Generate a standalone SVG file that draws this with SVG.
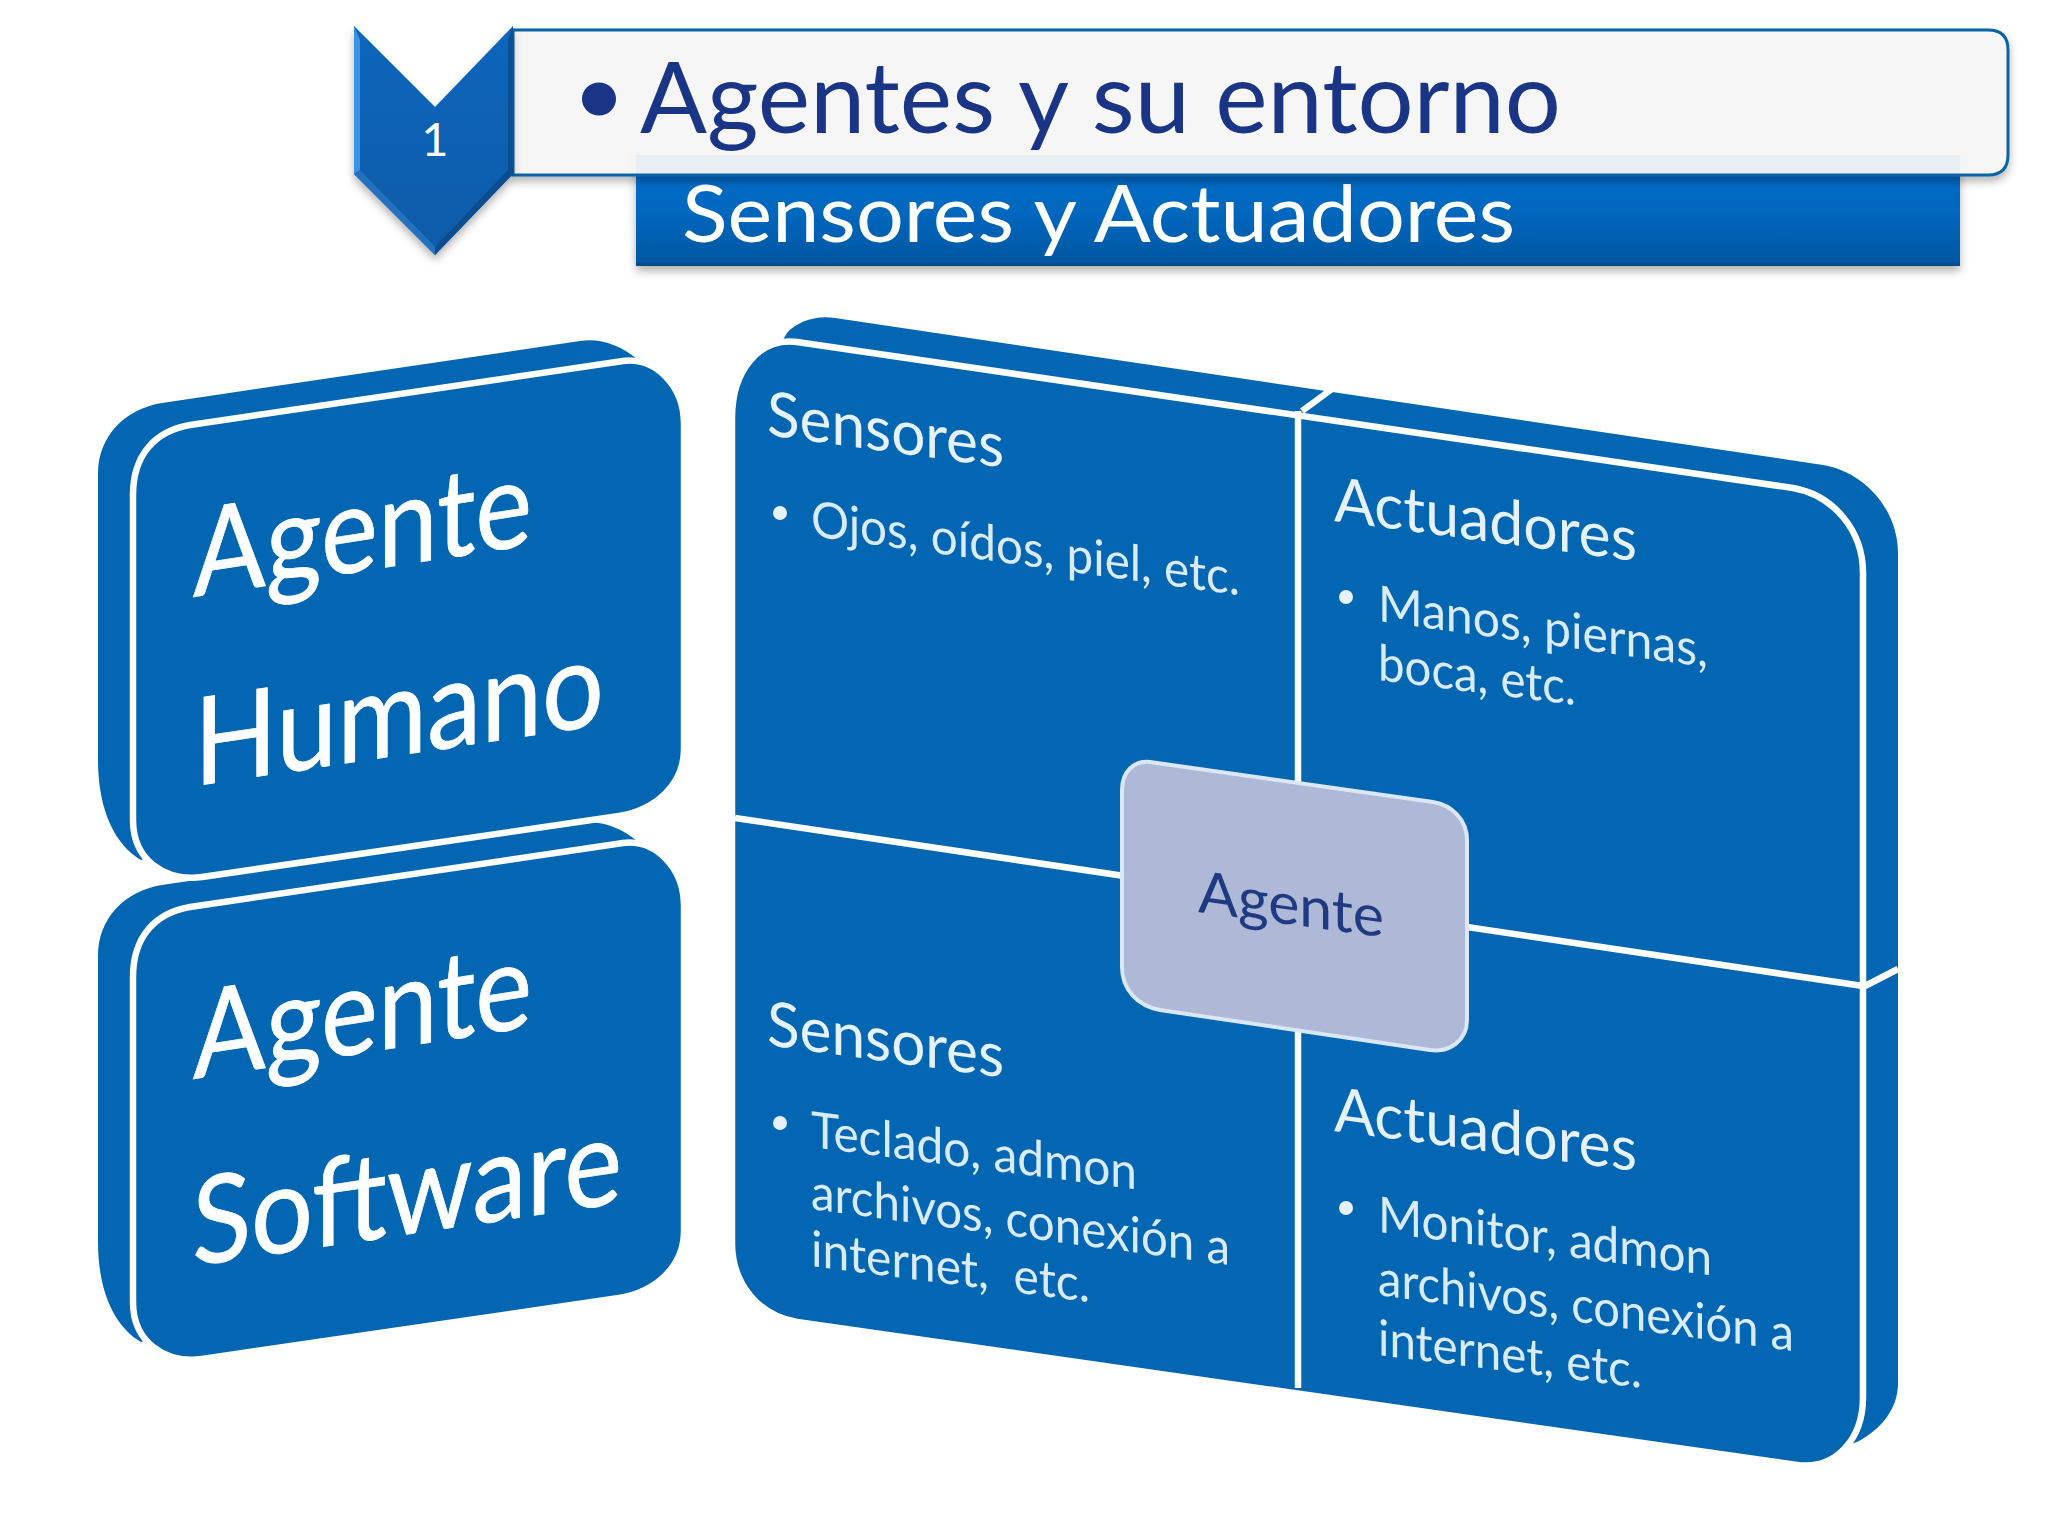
<svg xmlns="http://www.w3.org/2000/svg" width="2048" height="1536" viewBox="0 0 2048 1536">
<style>
text{font-family:"Lato","Liberation Sans",sans-serif}
.b{fill:#0366b2}
.f{fill:#0366b2;stroke:#fff;stroke-width:6.500}
.d{fill:none;stroke:#fff;stroke-width:6.500}
.big{fill:#fdfeff;font-size:122px;stroke:#fdfeff;stroke-width:.8}
.h{fill:#e6f2fb;font-size:62px}
.t{fill:#d9ebf8;font-size:50px}
.dot{fill:#e6f2fb}
</style>
<defs>
<linearGradient id="gb" x1="0" y1="0" x2="0" y2="1"><stop offset="0" stop-color="#066ecb"/><stop offset=".55" stop-color="#0566bc"/><stop offset="1" stop-color="#04569f"/></linearGradient>
<linearGradient id="gc" x1="0" y1="0" x2="0" y2="1"><stop offset="0" stop-color="#0b66bc"/><stop offset="1" stop-color="#0b5ca8"/></linearGradient>
<filter id="sh" x="-10%" y="-10%" width="120%" height="130%"><feDropShadow dx="0" dy="5" stdDeviation="4" flood-color="#000" flood-opacity=".3"/></filter>
<path id="bk" d="M162 403L580 341C600 338 620 345 637 359L640 700L141 860C115 845 98 810 98 760L98 474C98 436 125 409 162 403Z"/>
<path id="fr" d="M190 425L623 361C655 357 684 385 684 424L684 749C684 785 655 810 619 816L202 877C165 882 133 860 133 820L133 495C133 455 155 431 190 425Z"/>
</defs>
<g id="bar"><rect x="636" y="155" width="1324" height="111" fill="url(#gb)" filter="url(#sh)"/><rect x="636" y="263" width="1324" height="3" fill="#0b4a85"/>
<text x="682" y="242" font-size="80" fill="#fff" textLength="833" lengthAdjust="spacingAndGlyphs">Sensores y Actuadores</text></g>
<g id="title"><path d="M513 30H1988Q2008 30 2008 50V155Q2008 175 1988 175H513Z" fill="#f7f7f7" fill-opacity=".93" stroke="#0a64a4" stroke-width="3" filter="url(#sh)"/>
<ellipse cx="599" cy="99" rx="17" ry="16.500" fill="#1a3585"/>
<text x="640" y="133" font-size="98" fill="#1a3585" textLength="921" lengthAdjust="spacingAndGlyphs">Agentes y su entorno</text></g>
<g id="chevron"><polygon points="354,26 435,107 513,26 513,174 435,255 354,174" fill="url(#gc)" filter="url(#sh)"/>
<polygon points="354,26 360,40 360,170 354,174" fill="#3a94e4"/><polygon points="354,174 360,170 435,247 435,255" fill="#2272c0"/><polygon points="513,26 508,40 508,170 513,174" fill="#0a4f92"/><polygon points="513,174 508,170 435,247 435,255" fill="#0a4c8e"/>
<text x="435" y="156" font-size="47" fill="#fff" text-anchor="middle">1</text></g>
<g id="agente-software" transform="translate(0 482)"><use href="#bk" class="b"/><use href="#fr" class="f"/></g>
<g id="agente-software-text">
<text class="big" transform="matrix(1 -.155 0 1 193 1079)" textLength="339" lengthAdjust="spacingAndGlyphs">Agente</text>
<text class="big" transform="matrix(1 -.148 0 1 192 1266)" textLength="430" lengthAdjust="spacingAndGlyphs">Software</text></g>
<g id="agente-humano"><use href="#bk" class="b"/><use href="#fr" class="f"/>
<text class="big" transform="matrix(1 -.155 0 1 193 597)" textLength="339" lengthAdjust="spacingAndGlyphs">Agente</text>
<text class="big" transform="matrix(1 -.15 0 1 194 786)" textLength="410" lengthAdjust="spacingAndGlyphs">Humano</text></g>
<g id="panel">
<path class="b" d="M787 333C797 322 815 315 835 318L1823 465C1865 472 1898 510 1898 553L1898 1383C1898 1410 1880 1430 1857 1442L1797 1462L797 1319L735 1000L735 418Z"/>
<path class="f" d="M797 342L1793 488C1833 495 1863 530 1863 573L1863 1397C1863 1440 1835 1470 1797 1465L797 1322C760 1316 732 1285 732 1243L732 418C732 370 760 337 797 342Z"/>
<g class="d"><path d="M1298 411V1388M735 818L1863 986M1332 389L1302 411M1898 969L1865 986"/></g>
</g>
<g id="sensores-arriba">
<text class="h" transform="matrix(1 .138 0 1 767 435)" textLength="237" lengthAdjust="spacingAndGlyphs">Sensores</text>
<circle class="dot" cx="780" cy="513" r="7"/>
<text class="t" transform="matrix(1 .138 0 1 811 536)" textLength="429" lengthAdjust="spacingAndGlyphs">Ojos, oídos, piel, etc.</text></g>
<g id="actuadores-arriba">
<text class="h" transform="matrix(1 .133 0 1 1334 521)" textLength="303" lengthAdjust="spacingAndGlyphs">Actuadores</text>
<circle class="dot" cx="1346" cy="597" r="7"/>
<text class="t" transform="matrix(1 .14 0 1 1378 621)" textLength="330" lengthAdjust="spacingAndGlyphs">Manos, piernas,</text>
<text class="t" transform="matrix(1 .127 0 1 1378 680)" textLength="198" lengthAdjust="spacingAndGlyphs">boca, etc.</text></g>
<g id="sensores-abajo">
<text class="h" transform="matrix(1 .138 0 1 767 1045)" textLength="237" lengthAdjust="spacingAndGlyphs">Sensores</text>
<circle class="dot" cx="780" cy="1123" r="7"/>
<text class="t" transform="matrix(1 .13 0 1 811 1147)" textLength="326" lengthAdjust="spacingAndGlyphs">Teclado, admon</text>
<text class="t" transform="matrix(1 .134 0 1 811 1209)" textLength="419" lengthAdjust="spacingAndGlyphs">archivos, conexión a</text>
<text class="t" transform="matrix(1 .13 0 1 811 1266)" textLength="279" lengthAdjust="spacingAndGlyphs" xml:space="preserve">internet,  etc.</text></g>
<g id="actuadores-abajo">
<text class="h" transform="matrix(1 .133 0 1 1334 1131)" textLength="303" lengthAdjust="spacingAndGlyphs">Actuadores</text>
<circle class="dot" cx="1346" cy="1208" r="7"/>
<text class="t" transform="matrix(1 .13 0 1 1378 1232)" textLength="334" lengthAdjust="spacingAndGlyphs">Monitor, admon</text>
<text class="t" transform="matrix(1 .135 0 1 1378 1295)" textLength="416" lengthAdjust="spacingAndGlyphs">archivos, conexión a</text>
<text class="t" transform="matrix(1 .125 0 1 1378 1355)" textLength="264" lengthAdjust="spacingAndGlyphs">internet, etc.</text></g>
<g id="agente">
<path d="M1150 762L1433 802C1452 805 1467 820 1467 840L1467 1020C1467 1040 1450 1053 1430 1050L1160 1010C1138 1006 1122 990 1122 967L1122 790C1122 772 1134 760 1150 762Z" fill="#adb9d6" stroke="#dbe7f6" stroke-width="4"/>
<text transform="matrix(1 .136 0 1 1198 912)" font-size="58" fill="#1f3a80" textLength="186" lengthAdjust="spacingAndGlyphs">Agente</text></g>
</svg>
